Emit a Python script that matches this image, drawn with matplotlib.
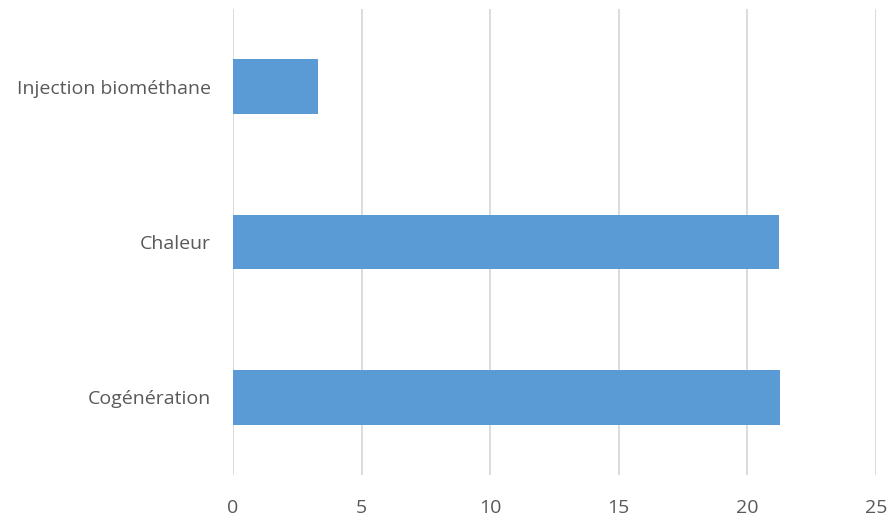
import matplotlib
matplotlib.use("Agg")
import matplotlib.pyplot as plt

categories = ["Cogénération", "Chaleur", "Injection biométhane"]
values = [21.28, 21.24, 3.3]
xticks = [0, 5, 10, 15, 20, 25]

plt.rcParams['font.family'] = ['Open Sans', 'DejaVu Sans']
fig = plt.figure(figsize=(8.9, 5.17), dpi=100)
ax = fig.add_axes([233/890, 42/517, (876-233)/890, (475-9)/517])
ax.barh(range(len(categories)), values, height=0.35, color="#5B9BD5", zorder=3)
ax.set_xlim(0, 25)
ax.set_ylim(-0.5, 2.5)
ax.set_xticks(xticks)
ax.set_yticks(range(len(categories)))
ax.set_yticklabels(categories)
ax.grid(axis="x", color="#D9D9D9", linewidth=1.3, zorder=0)
for s in ax.spines.values():
    s.set_visible(False)
ax.tick_params(axis="both", length=0, colors="#595959", labelsize=14)
ax.tick_params(axis="x", pad=17)
ax.tick_params(axis="y", pad=16)
fig.savefig("out.png", dpi=100, facecolor="white")
